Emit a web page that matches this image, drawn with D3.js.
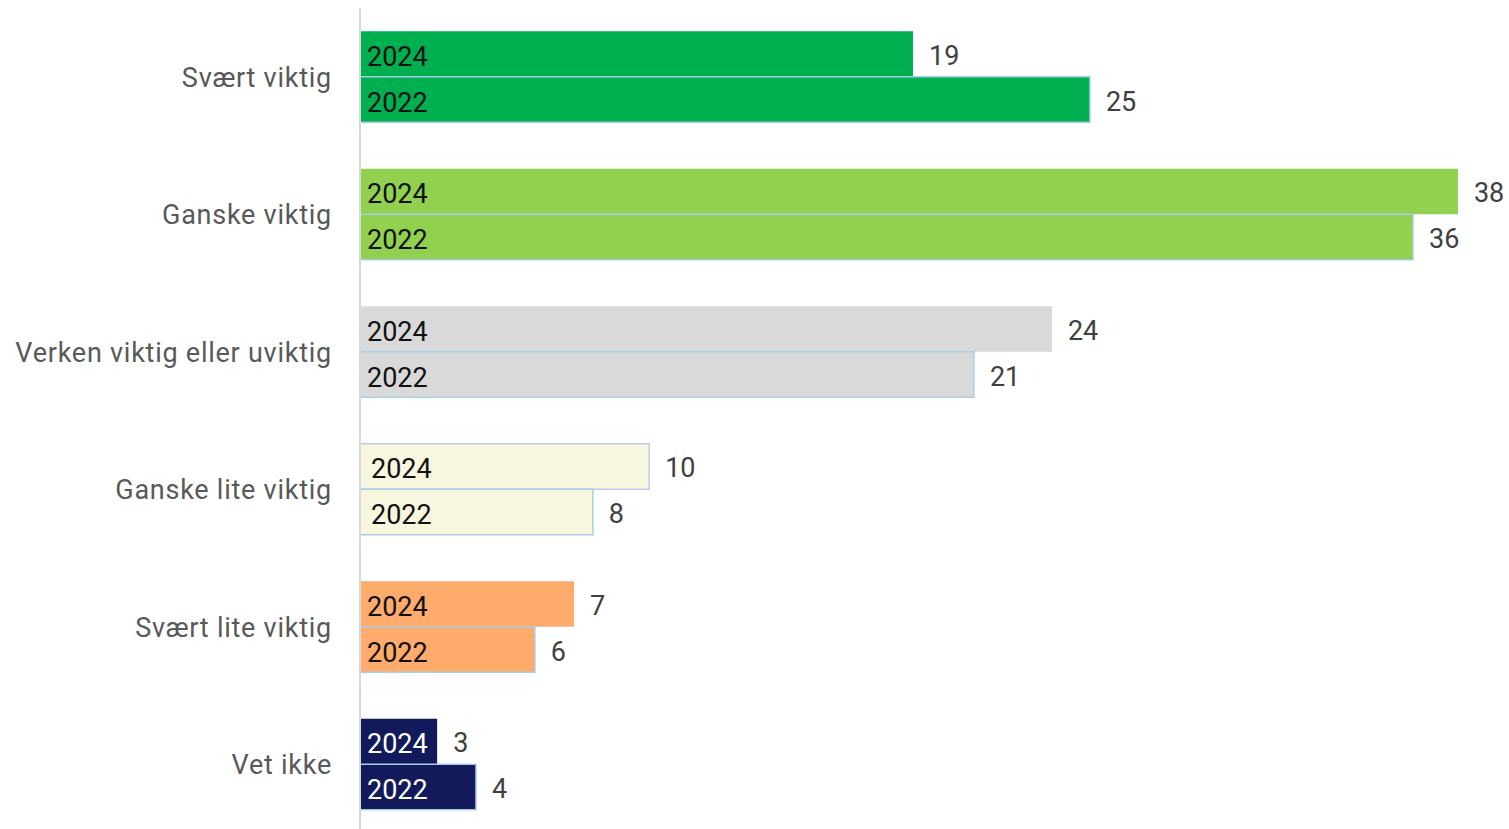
<!DOCTYPE html>
<html>
<head>
<meta charset="utf-8">
<script src="https://cdn.jsdelivr.net/npm/d3@7"></script>
<style>
  body { margin: 0; background: #fff; }
  svg text { font-family: Roboto, "DejaVu Sans", sans-serif; }
</style>
</head>
<body>
<div id="chart"></div>
<script>
// data
var categories = ["Svært viktig", "Ganske viktig", "Verken viktig eller uviktig", "Ganske lite viktig", "Svært lite viktig", "Vet ikke"];
var years = ["2024", "2022"];
var values2024 = [19.07, 37.86, 23.86, 9.97, 7.38, 2.66];
var values2022 = [25.17, 36.31, 21.17, 8.03, 6.03, 4.0];
var colors = ["#00b050", "#92d050", "#d9d9d9", "#f8f6de", "#ffab6b", "#121a5b"];

var width = 1509, height = 829;

var svg = d3.select("#chart").append("svg")
  .attr("width", width)
  .attr("height", height);

var x = d3.scaleLinear().domain([0, 40]).range([360, 1520]);

var y = d3.scaleBand().domain(categories).range([8, 833]).paddingInner(0.338).paddingOuter(0.169);
var yInner = d3.scaleBand().domain(years).range([0, y.bandwidth()]);

var rows = [];
categories.forEach(function(c, i){
  rows.push({cat: c, year: "2024", v: values2024[i], i: i});
  rows.push({cat: c, year: "2022", v: values2022[i], i: i});
});

var bars = svg.append("g").attr("class", "bars");

bars.selectAll("rect")
  .data(rows)
  .enter()
  .append("rect")
  .attr("x", x(0))
  .attr("y", function(d){ return y(d.cat) + yInner(d.year); })
  .attr("width", function(d){ return x(d.v) - x(0); })
  .attr("height", yInner.bandwidth())
  .attr("fill", function(d){ return colors[d.i]; })
  .attr("stroke", function(d){
    if (d.year == "2022") return "#a8cde6";
    if (d.i == 3) return "#c3c8ee";
    return "none";
  })
  .attr("stroke-width", 1.5);

// year labels inside bars
bars.selectAll("text.year")
  .data(rows)
  .enter()
  .append("text")
  .attr("class", "year")
  .attr("x", function(d){ return x(0) + (d.i == 3 ? 11 : 7); })
  .attr("y", function(d){ return y(d.cat) + yInner(d.year) + yInner.bandwidth() / 2 + 12; })
  .attr("font-size", 27)
  .attr("fill", function(d){ return d.i == 5 ? "#ffffff" : "#111111"; })
  .text(function(d){ return d.year; });

// value labels
bars.selectAll("text.val")
  .data(rows)
  .enter()
  .append("text")
  .attr("class", "val")
  .attr("x", function(d){ return x(d.v) + 16; })
  .attr("y", function(d){ return y(d.cat) + yInner(d.year) + yInner.bandwidth() / 2 + 11; })
  .attr("font-size", 27)
  .attr("fill", "#404040")
  .text(function(d){ return d3.format(".0f")(d.v); });

// axis line
svg.append("line")
  .attr("x1", x(0)).attr("x2", x(0))
  .attr("y1", 8).attr("y2", 829)
  .attr("stroke", "#d9d9d9")
  .attr("stroke-width", 2);

// category labels
svg.append("g").selectAll("text")
  .data(categories)
  .enter()
  .append("text")
  .attr("x", 332)
  .attr("y", function(d){ return y(d) + y.bandwidth() / 2 + 10; })
  .attr("text-anchor", "end")
  .attr("font-size", 27)
  .attr("letter-spacing", 0.75)
  .attr("fill", "#595959")
  .text(function(d){ return d; });
</script>
</body>
</html>
